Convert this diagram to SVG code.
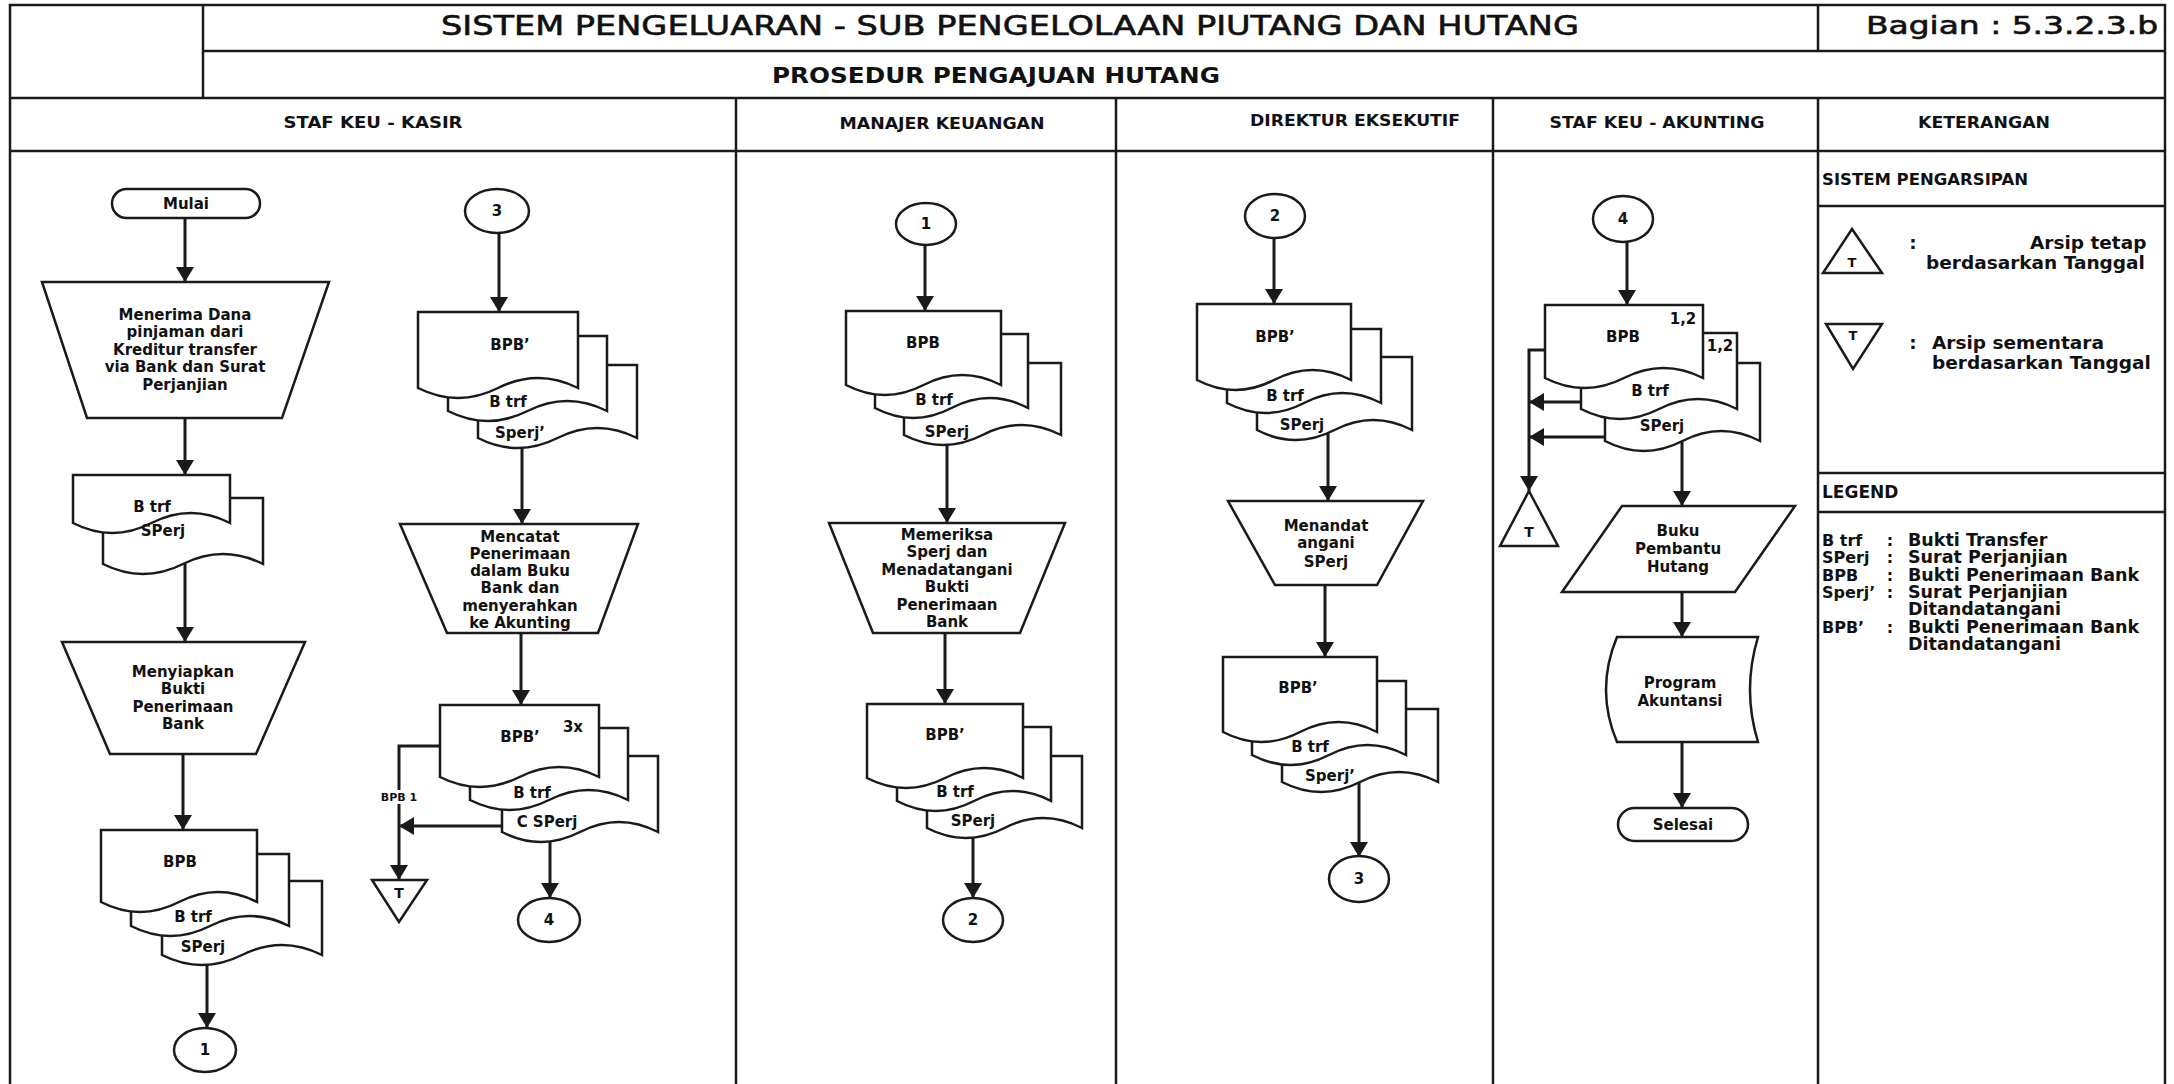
<svg xmlns="http://www.w3.org/2000/svg" width="2174" height="1084" viewBox="0 0 2174 1084">
<style>
.fr{stroke:#1a1a1a;stroke-width:2.5;fill:none}
.sh{stroke:#1a1a1a;stroke-width:2.5;fill:#fff}
.ln{stroke:#1a1a1a;stroke-width:3;fill:none}
.t{font-family:"DejaVu Sans",Verdana,sans-serif;font-weight:bold;font-size:15px;fill:#111;text-anchor:middle;dominant-baseline:central}
.s{text-anchor:start}
.h{font-size:16px}
.k{font-size:18.5px}
.lg{font-size:17.5px}
.ab{font-size:16px}
.ti{font-weight:normal;stroke:#111;stroke-width:0.6}
</style>
<defs>
<marker id="ah" viewBox="0 0 15 18" refX="15" refY="9" markerWidth="15" markerHeight="18" markerUnits="userSpaceOnUse" orient="auto"><path d="M0,0 L15,9 L0,18 Z" fill="#1a1a1a"/></marker>
</defs>
<rect width="2174" height="1084" fill="#fff"/>
<g id="frame">
<path class="fr" d="M10,1084 V5 H2165 V1084"/>
<path class="fr" d="M203,51 H2165 M10,98 H2165 M10,151 H2165 M203,5 V98 M1818,5 V51 M1818,98 V1084 M736,98 V1084 M1116,98 V1084 M1493,98 V1084 M1818,206 H2165 M1818,473 H2165 M1818,512 H2165"/>
</g>
<g id="header">
<text class="t ti" x="1010" y="25" style="font-size:27px" textLength="1138" lengthAdjust="spacingAndGlyphs">SISTEM PENGELUARAN - SUB PENGELOLAAN PIUTANG DAN HUTANG</text>
<text class="t ti" x="2012" y="25" style="font-size:25px" textLength="292" lengthAdjust="spacingAndGlyphs">Bagian : 5.3.2.3.b</text>
<text class="t" x="996" y="76" style="font-size:21px" textLength="448" lengthAdjust="spacingAndGlyphs">PROSEDUR PENGAJUAN HUTANG</text>
<text class="t h" x="373" y="122" textLength="179" lengthAdjust="spacingAndGlyphs">STAF KEU - KASIR</text>
<text class="t h" x="942" y="123" textLength="205" lengthAdjust="spacingAndGlyphs">MANAJER KEUANGAN</text>
<text class="t h" x="1355" y="120" textLength="210" lengthAdjust="spacingAndGlyphs">DIREKTUR EKSEKUTIF</text>
<text class="t h" x="1657" y="122" textLength="215" lengthAdjust="spacingAndGlyphs">STAF KEU - AKUNTING</text>
<text class="t h" x="1984" y="122" textLength="132" lengthAdjust="spacingAndGlyphs">KETERANGAN</text>
</g>
<g id="connectors">
<path class="ln" marker-end="url(#ah)" d="M185,218 V282"/>
<path class="ln" marker-end="url(#ah)" d="M185,418 V475"/>
<path class="ln" marker-end="url(#ah)" d="M185,564 V642"/>
<path class="ln" marker-end="url(#ah)" d="M183,754 V830"/>
<path class="ln" marker-end="url(#ah)" d="M207,964 V1028"/>
<path class="ln" marker-end="url(#ah)" d="M499,233 V312"/>
<path class="ln" marker-end="url(#ah)" d="M522,447 V524"/>
<path class="ln" marker-end="url(#ah)" d="M521,633 V705"/>
<path class="ln" marker-end="url(#ah)" d="M440,746 H399 V880"/>
<path class="ln" marker-end="url(#ah)" d="M502,826 H399"/>
<path class="ln" marker-end="url(#ah)" d="M550,836 V898"/>
<path class="ln" marker-end="url(#ah)" d="M925,246 V311"/>
<path class="ln" marker-end="url(#ah)" d="M947,445 V523"/>
<path class="ln" marker-end="url(#ah)" d="M945,633 V704"/>
<path class="ln" marker-end="url(#ah)" d="M973,837 V898"/>
<path class="ln" marker-end="url(#ah)" d="M1274,238 V304"/>
<path class="ln" marker-end="url(#ah)" d="M1328,433 V501"/>
<path class="ln" marker-end="url(#ah)" d="M1325,585 V657"/>
<path class="ln" marker-end="url(#ah)" d="M1359,782 V857"/>
<path class="ln" marker-end="url(#ah)" d="M1627,241 V305"/>
<path class="ln" marker-end="url(#ah)" d="M1545,350 H1529 V491"/>
<path class="ln" marker-end="url(#ah)" d="M1581,402 H1529"/>
<path class="ln" marker-end="url(#ah)" d="M1605,437 H1529"/>
<path class="ln" marker-end="url(#ah)" d="M1682,441 V506"/>
<path class="ln" marker-end="url(#ah)" d="M1682,592 V637"/>
<path class="ln" marker-end="url(#ah)" d="M1682,742 V808"/>
</g>
<g id="mulai"><rect class="sh" x="112" y="189" width="148" height="29" rx="14.5"/><text class="t" x="186" y="204">Mulai</text></g>
<g id="op-menerima"><polygon class="sh" points="42,282 329,282 282,418 87,418"/>
<text class="t" x="185" y="315">Menerima Dana</text><text class="t" x="185" y="332">pinjaman dari</text><text class="t" x="185" y="350">Kreditur transfer</text><text class="t" x="185" y="367">via Bank dan Surat</text><text class="t" x="185" y="385">Perjanjian</text></g>
<g id="doc-btrf-sperj">
<path class="sh" d="M103,498 H263 V564 Q223,544 183,564 T103,564 Z"/>
<path class="sh" d="M73,475 H230 V523 Q190.75,503 151.5,523 T73,523 Z"/>
<text class="t" x="152" y="507">B trf</text><text class="t" x="163" y="531">SPerj</text></g>
<g id="op-menyiapkan"><polygon class="sh" points="62,642 305,642 256,754 110,754"/>
<text class="t" x="183" y="672">Menyiapkan</text><text class="t" x="183" y="689">Bukti</text><text class="t" x="183" y="707">Penerimaan</text><text class="t" x="183" y="724">Bank</text></g>
<g id="doc-bpb-kasir">
<path class="sh" d="M162,881 H322 V955 Q282,935 242,955 T162,955 Z"/>
<path class="sh" d="M131,854 H289 V926 Q249.5,906 210,926 T131,926 Z"/>
<path class="sh" d="M101,830 H257 V902 Q218,882 179,902 T101,902 Z"/>
<text class="t" x="180" y="862">BPB</text><text class="t" x="193" y="917">B trf</text><text class="t" x="203" y="947">SPerj</text></g>
<g id="conn-1a"><ellipse class="sh" cx="205" cy="1050" rx="31" ry="22"/><text class="t" x="205" y="1050">1</text></g>
<g id="conn-3a"><ellipse class="sh" cx="497" cy="211" rx="32" ry="22"/><text class="t" x="497" y="211">3</text></g>
<g id="doc-bpb2-kasir">
<path class="sh" d="M478,365 H637 V438 Q597.25,418 557.5,438 T478,438 Z"/>
<path class="sh" d="M448,336 H607 V411 Q567.25,391 527.5,411 T448,411 Z"/>
<path class="sh" d="M418,312 H578 V388 Q538,368 498,388 T418,388 Z"/>
<text class="t" x="510" y="345">BPB’</text><text class="t" x="508" y="402">B trf</text><text class="t" x="520" y="433">Sperj’</text></g>
<g id="op-mencatat"><polygon class="sh" points="400,524 638,524 598,633 447,633"/>
<text class="t" x="520" y="537">Mencatat</text><text class="t" x="520" y="554">Penerimaan</text><text class="t" x="520" y="571">dalam Buku</text><text class="t" x="520" y="588">Bank dan</text><text class="t" x="520" y="606">menyerahkan</text><text class="t" x="520" y="623">ke Akunting</text></g>
<g id="doc-bpb3-kasir">
<path class="sh" d="M502,756 H658 V832 Q619,812 580,832 T502,832 Z"/>
<path class="sh" d="M470,728 H628 V800 Q588.5,780 549,800 T470,800 Z"/>
<path class="sh" d="M440,705 H599 V777 Q559.25,757 519.5,777 T440,777 Z"/>
<text class="t" x="520" y="737">BPB’</text><text class="t" x="573" y="727">3x</text><text class="t" x="532" y="793">B trf</text><text class="t" x="547" y="822">C SPerj</text></g>
<g id="lbl-bpb1"><rect x="381" y="790" width="36" height="14" fill="#fff"/><text class="t" x="399" y="797" style="font-size:11px">BPB 1</text></g>
<g id="arsip-sementara-kasir"><polygon class="sh" points="372,880 427,880 399,922"/><text class="t" x="399" y="893" style="font-size:14px">T</text></g>
<g id="conn-4a"><ellipse class="sh" cx="549" cy="920" rx="31" ry="22"/><text class="t" x="549" y="920">4</text></g>
<g id="conn-1b"><ellipse class="sh" cx="926" cy="224" rx="30" ry="21"/><text class="t" x="926" y="224">1</text></g>
<g id="doc-bpb-manajer">
<path class="sh" d="M904,363 H1061 V435 Q1021.75,415 982.5,435 T904,435 Z"/>
<path class="sh" d="M875,334 H1028 V408 Q989.75,388 951.5,408 T875,408 Z"/>
<path class="sh" d="M846,311 H1001 V385 Q962.25,365 923.5,385 T846,385 Z"/>
<text class="t" x="923" y="343">BPB</text><text class="t" x="934" y="400">B trf</text><text class="t" x="947" y="432">SPerj</text></g>
<g id="op-memeriksa"><polygon class="sh" points="829,523 1065,523 1020,633 873,633"/>
<text class="t" x="947" y="535">Memeriksa</text><text class="t" x="947" y="552">Sperj dan</text><text class="t" x="947" y="570">Menadatangani</text><text class="t" x="947" y="587">Bukti</text><text class="t" x="947" y="605">Penerimaan</text><text class="t" x="947" y="622">Bank</text></g>
<g id="doc-bpb2-manajer">
<path class="sh" d="M927,756 H1082 V828 Q1043.25,808 1004.5,828 T927,828 Z"/>
<path class="sh" d="M897,727 H1051 V801 Q1012.5,781 974,801 T897,801 Z"/>
<path class="sh" d="M867,704 H1023 V778 Q984,758 945,778 T867,778 Z"/>
<text class="t" x="945" y="735">BPB’</text><text class="t" x="955" y="792">B trf</text><text class="t" x="973" y="821">SPerj</text></g>
<g id="conn-2a"><ellipse class="sh" cx="973" cy="920" rx="30" ry="22"/><text class="t" x="973" y="920">2</text></g>
<g id="conn-2b"><ellipse class="sh" cx="1275" cy="216" rx="30" ry="22"/><text class="t" x="1275" y="216">2</text></g>
<g id="doc-bpb-direktur">
<path class="sh" d="M1257,357 H1412 V430 Q1373.25,410 1334.5,430 T1257,430 Z"/>
<path class="sh" d="M1227,329 H1381 V403 Q1342.5,383 1304,403 T1227,403 Z"/>
<path class="sh" d="M1197,304 H1351 V380 Q1312.5,360 1274,380 T1197,380 Z"/>
<text class="t" x="1275" y="337">BPB’</text><text class="t" x="1285" y="396">B trf</text><text class="t" x="1302" y="425">SPerj</text></g>
<g id="op-menandatangani"><polygon class="sh" points="1228,501 1423,501 1377,585 1275,585"/>
<text class="t" x="1326" y="526">Menandat</text><text class="t" x="1326" y="543">angani</text><text class="t" x="1326" y="562">SPerj</text></g>
<g id="doc-bpb2-direktur">
<path class="sh" d="M1282,709 H1438 V782 Q1399,762 1360,782 T1282,782 Z"/>
<path class="sh" d="M1252,681 H1406 V755 Q1367.5,735 1329,755 T1252,755 Z"/>
<path class="sh" d="M1223,657 H1377 V732 Q1338.5,712 1300,732 T1223,732 Z"/>
<text class="t" x="1298" y="688">BPB’</text><text class="t" x="1310" y="747">B trf</text><text class="t" x="1330" y="776">Sperj’</text></g>
<g id="conn-3b"><ellipse class="sh" cx="1359" cy="879" rx="30" ry="23"/><text class="t" x="1359" y="879">3</text></g>
<g id="conn-4b"><ellipse class="sh" cx="1623" cy="219" rx="30" ry="23"/><text class="t" x="1623" y="219">4</text></g>
<g id="doc-bpb-akunting">
<path class="sh" d="M1605,363 H1760 V441 Q1721.25,421 1682.5,441 T1605,441 Z"/>
<path class="sh" d="M1581,333 H1737 V409 Q1698,389 1659,409 T1581,409 Z"/>
<path class="sh" d="M1545,305 H1703 V378 Q1663.5,358 1624,378 T1545,378 Z"/>
<text class="t" x="1623" y="337">BPB</text><text class="t" x="1683" y="319">1,2</text><text class="t" x="1720" y="346">1,2</text><text class="t" x="1650" y="391">B trf</text><text class="t" x="1662" y="426">SPerj</text></g>
<g id="arsip-tetap-akunting"><polygon class="sh" points="1529,491 1558,546 1500,546"/><text class="t" x="1529" y="532" style="font-size:14px">T</text></g>
<g id="buku-pembantu"><polygon class="sh" points="1622,506 1795,506 1735,592 1562,592"/>
<text class="t" x="1678" y="531">Buku</text><text class="t" x="1678" y="549">Pembantu</text><text class="t" x="1678" y="567">Hutang</text></g>
<g id="program-akuntansi"><path class="sh" d="M1617,637 H1758 Q1742,690 1758,742 H1617 Q1595,690 1617,637 Z"/>
<text class="t" x="1680" y="683">Program</text><text class="t" x="1680" y="701">Akuntansi</text></g>
<g id="selesai"><rect class="sh" x="1618" y="808" width="130" height="33" rx="16.5"/><text class="t" x="1683" y="825">Selesai</text></g>
<g id="keterangan">
<text class="t s" x="1822" y="179" style="font-size:16.5px">SISTEM PENGARSIPAN</text>
<polygon class="sh" points="1852,229 1882,273 1823,273"/><text class="t" x="1852" y="262" style="font-size:13px">T</text>
<text class="t k" x="1913" y="242">:</text>
<text class="t s k" x="2030" y="242">Arsip tetap</text>
<text class="t s k" x="1926" y="262">berdasarkan Tanggal</text>
<polygon class="sh" points="1826,324 1882,324 1853,369"/><text class="t" x="1853" y="335" style="font-size:13px">T</text>
<text class="t k" x="1913" y="342">:</text>
<text class="t s k" x="1932" y="342">Arsip sementara</text>
<text class="t s k" x="1932" y="362">berdasarkan Tanggal</text>
<text class="t s" x="1822" y="492" style="font-size:17px">LEGEND</text>
<g class="legend">
<text class="t s ab" x="1822" y="540">B trf</text><text class="t ab" x="1890" y="540">:</text><text class="t s lg" x="1908" y="540">Bukti Transfer</text>
<text class="t s ab" x="1822" y="557">SPerj</text><text class="t ab" x="1890" y="557">:</text><text class="t s lg" x="1908" y="557">Surat Perjanjian</text>
<text class="t s ab" x="1822" y="575">BPB</text><text class="t ab" x="1890" y="575">:</text><text class="t s lg" x="1908" y="575">Bukti Penerimaan Bank</text>
<text class="t s ab" x="1822" y="592">Sperj’</text><text class="t ab" x="1890" y="592">:</text><text class="t s lg" x="1908" y="592">Surat Perjanjian</text>
<text class="t s lg" x="1908" y="609">Ditandatangani</text>
<text class="t s ab" x="1822" y="627">BPB’</text><text class="t ab" x="1890" y="627">:</text><text class="t s lg" x="1908" y="627">Bukti Penerimaan Bank</text>
<text class="t s lg" x="1908" y="644">Ditandatangani</text>
</g>
</g>
</svg>
